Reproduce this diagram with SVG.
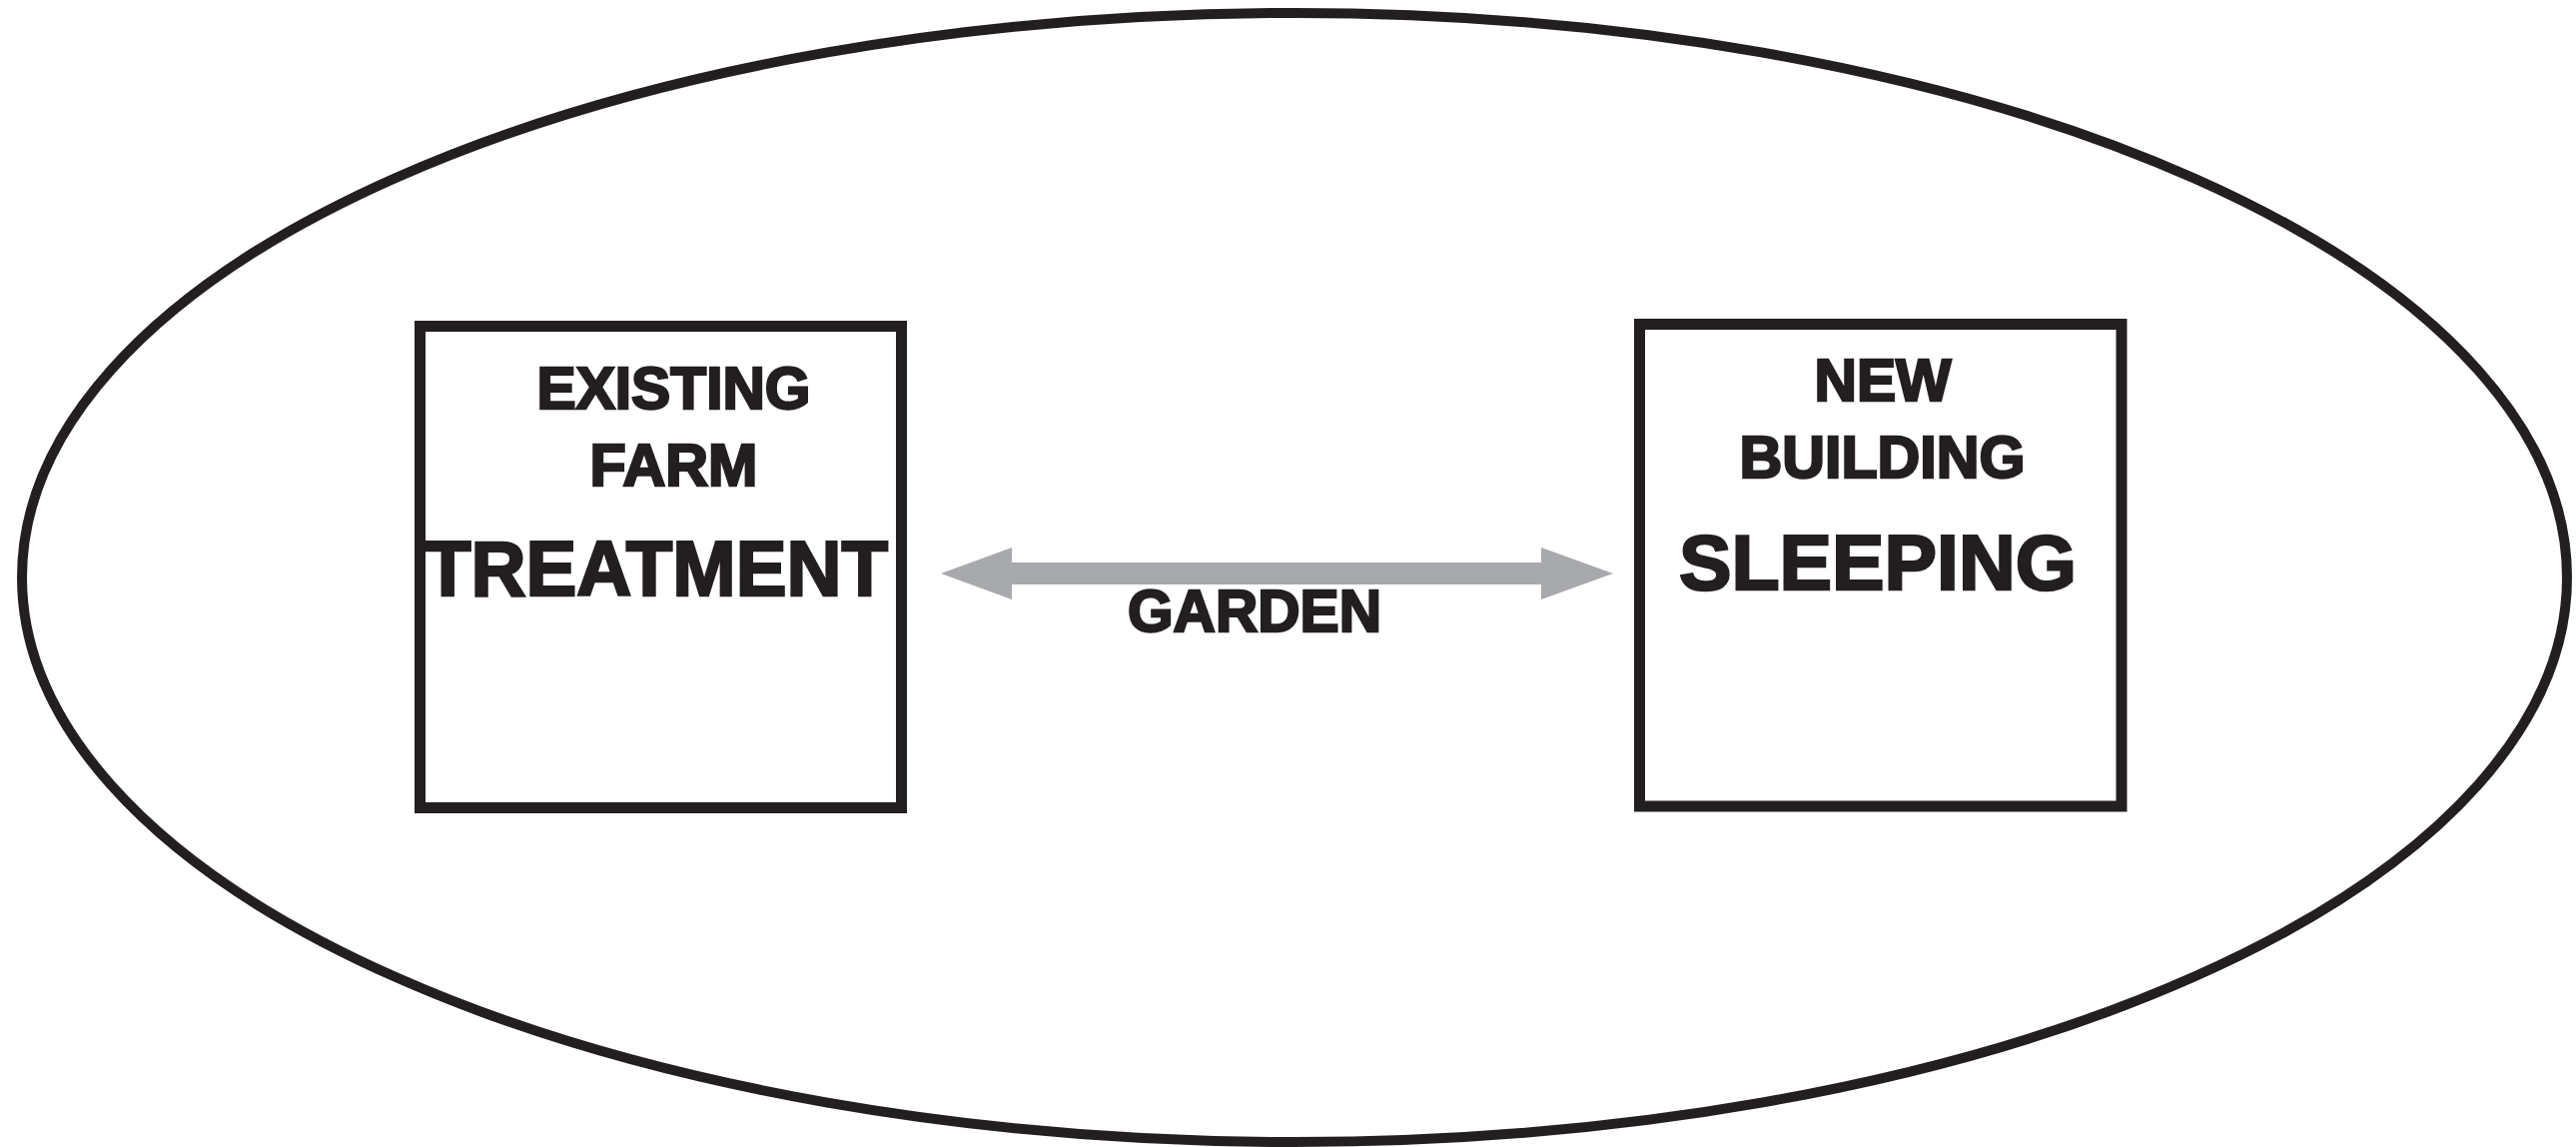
<svg xmlns="http://www.w3.org/2000/svg" width="2579" height="1148" viewBox="0 0 2579 1148">
<style>
.box{fill:none;stroke:#231f20;stroke-width:11}
.bound{fill:none;stroke:#231f20;stroke-width:10}
.lbl{font-family:"Liberation Sans",Arial,sans-serif;font-weight:bold;fill:#231f20;stroke:#231f20;stroke-width:2.5;text-anchor:middle}
.s60{font-size:60px}
.s77{font-size:78px}
.arrow{fill:#a7a9ac}
</style>
<rect width="2579" height="1148" fill="#ffffff"/>
<g id="site-boundary">
<ellipse class="bound" cx="1296" cy="578" rx="1274" ry="565"/>
</g>
<g id="connectors">
<polygon class="arrow" points="942,574 1013,548 1013,563 1543,563 1543,548 1615,574 1543,600 1543,585 1013,585 1013,600"/>
<text class="lbl s60" x="1256" y="632" textLength="254" lengthAdjust="spacingAndGlyphs">GARDEN</text>
</g>
<g id="existing-farm">
<rect class="box" x="420.5" y="326.5" width="482" height="482"/>
<text class="lbl s60" x="674.5" y="409" textLength="274" lengthAdjust="spacingAndGlyphs">EXISTING</text>
<text class="lbl s60" x="674.5" y="486" textLength="168" lengthAdjust="spacingAndGlyphs">FARM</text>
<text class="lbl s77" x="657" y="596" textLength="464" lengthAdjust="spacingAndGlyphs">TREATMENT</text>
</g>
<g id="new-building">
<rect class="box" x="1641.5" y="324.5" width="482.5" height="482.5"/>
<text class="lbl s60" x="1885" y="401" textLength="137" lengthAdjust="spacingAndGlyphs">NEW</text>
<text class="lbl s60" x="1884.5" y="478" textLength="286" lengthAdjust="spacingAndGlyphs">BUILDING</text>
<text class="lbl s77" x="1880" y="590" textLength="398" lengthAdjust="spacingAndGlyphs">SLEEPING</text>
</g>
</svg>
